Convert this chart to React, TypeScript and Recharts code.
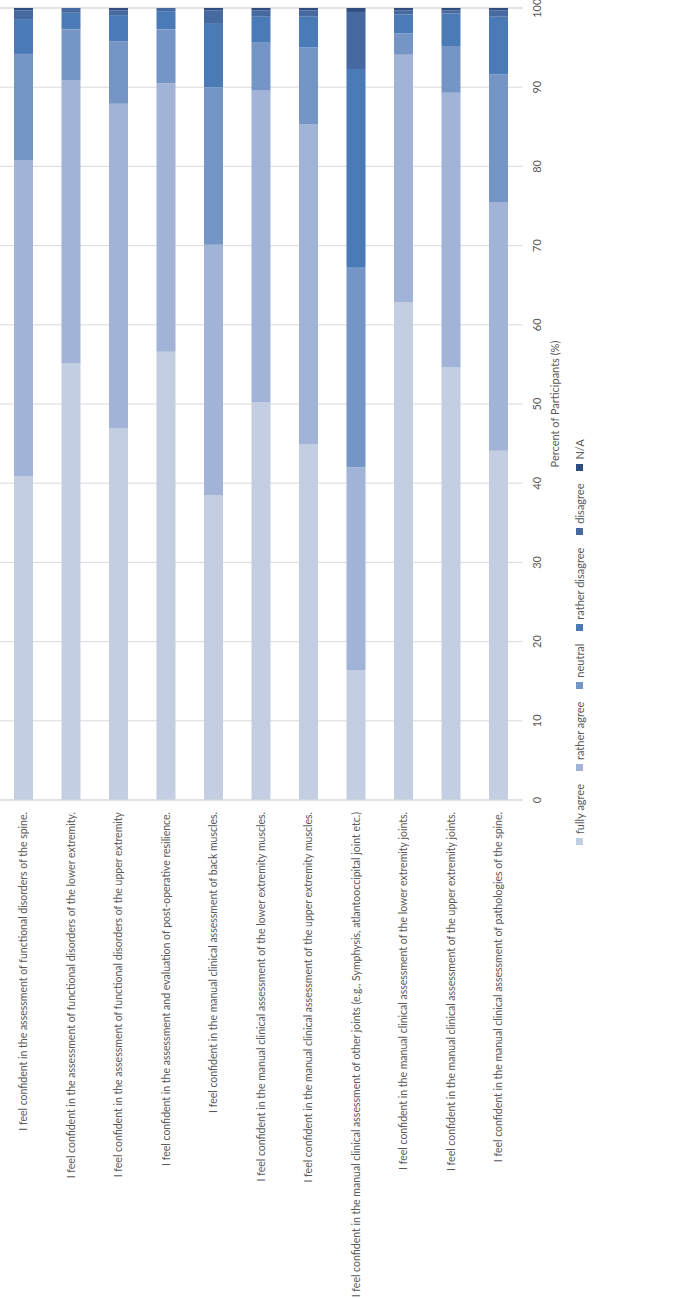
import React from 'react';
import { BarChart, Bar, XAxis, YAxis, CartesianGrid } from 'recharts';

const statements = [
  'I feel confident in the assessment of functional disorders of the spine.',
  'I feel confident in the assessment of functional disorders of the lower extremity.',
  'I feel confident in the assessment of functional disorders of the upper extremity',
  'I feel confident in the assessment and evaluation of post-operative resilience.',
  'I feel confident in the manual clinical assessment of back muscles.',
  'I feel confident in the manual clinical assessment of the lower extremity muscles.',
  'I feel confident in the manual clinical assessment of the upper extremity muscles.',
  'I feel confident in the manual clinical assessment of other joints (e.g., Symphysis, atlantooccipital joint etc.)',
  'I feel confident in the manual clinical assessment of the lower extremity joints.',
  'I feel confident in the manual clinical assessment of the upper extremity joints.',
  'I feel confident in the manual clinical assessment of pathologies of the spine.',
];

const fullyAgree = [40.9, 55.1, 46.9, 56.6, 38.5, 50.2, 44.9, 16.4, 62.8, 54.6, 44.1];
const ratherAgree = [39.9, 35.8, 41.0, 33.9, 31.6, 39.4, 40.4, 25.6, 31.3, 34.7, 31.4];
const neutral = [13.4, 6.4, 7.9, 6.8, 19.9, 6.1, 9.7, 25.2, 2.7, 5.9, 16.1];
const ratherDisagree = [4.4, 2.1, 3.3, 2.3, 8.0, 3.2, 3.9, 25.1, 2.4, 4.1, 7.3];
const disagree = [1.1, 0.6, 0.6, 0.4, 1.7, 0.8, 0.8, 7.2, 0.5, 0.4, 0.8];
const notApplicable = [0.3, 0, 0.3, 0, 0.3, 0.3, 0.3, 0.5, 0.3, 0.3, 0.3];

const valueTicks = [0, 10, 20, 30, 40, 50, 60, 70, 80, 90, 100];

const series = [
  { key: 'fa', name: 'fully agree', color: '#C3CEE3', values: fullyAgree },
  { key: 'ra', name: 'rather agree', color: '#A1B4D7', values: ratherAgree },
  { key: 'neu', name: 'neutral', color: '#7495C6', values: neutral },
  { key: 'rd', name: 'rather disagree', color: '#4A7BB7', values: ratherDisagree },
  { key: 'dis', name: 'disagree', color: '#4569A0', values: disagree },
  { key: 'na', name: 'N/A', color: '#2E4D7E', values: notApplicable },
];

const data = statements.map((s, i) => {
  const row: any = { name: s };
  series.forEach((sr) => (row[sr.key] = sr.values[i]));
  return row;
});

const FONT = 'Lato, "Liberation Sans", sans-serif';
const TXT = '#595959';

const W = 1299;
const H = 673;

// single-line category label (recharts would wrap long ones)
const StatementTick = (props: any) => {
  const { x, y, payload } = props;
  return (
    <text x={x} y={y} dy="0.355em" textAnchor="end" fontSize={10.5} fill={TXT} fontFamily={FONT}>
      {payload.value}
    </text>
  );
};

export default function App() {
  return (
    <div style={{ position: 'absolute', top: 0, left: 0, width: 673, height: 1299, overflow: 'hidden', background: '#fff' }}>
      <div
        style={{
          position: 'absolute',
          left: 0,
          top: 0,
          width: W,
          height: H,
          transformOrigin: '0 0',
          transform: `translate(0px, ${W}px) rotate(-90deg)`,
          fontFamily: FONT,
        }}
      >
        <BarChart
          width={W}
          height={H}
          data={data}
          layout="vertical"
          margin={{ top: 0, right: 8, left: 0, bottom: 114.5 }}
          barSize={19}
        >
          <CartesianGrid horizontal={false} stroke="#d9d9d9" />
          <XAxis
            type="number"
            domain={[0, 100]}
            ticks={valueTicks}
            axisLine={false}
            tickLine={false}
            tickMargin={5}
            height={36}
            tick={{ fontSize: 11, fill: TXT, fontFamily: FONT }}
            label={{ value: 'Percent of Participants (%)', position: 'insideBottom', offset: 0, fontSize: 11, fill: TXT, fontFamily: FONT }}
          />
          <YAxis
            type="category"
            dataKey="name"
            width={499}
            axisLine={{ stroke: '#d9d9d9' }}
            tickLine={false}
            tickMargin={6}
            interval={0}
            tick={<StatementTick />}
          />
          {series.map((sr) => (
            <Bar key={sr.key} dataKey={sr.key} name={sr.name} stackId="a" fill={sr.color} isAnimationActive={false} />
          ))}
        </BarChart>
        <div
          style={{
            position: 'absolute',
            top: 573,
            left: 454,
            display: 'flex',
            alignItems: 'center',
            fontSize: 11,
            color: TXT,
            whiteSpace: 'nowrap',
          }}
        >
          {series.map((sr) => (
            <div key={sr.key} style={{ display: 'flex', alignItems: 'center', marginRight: 13 }}>
              <span style={{ display: 'inline-block', width: 7, height: 7, background: sr.color, marginRight: 4 }} />
              <span>{sr.name}</span>
            </div>
          ))}
        </div>
      </div>
    </div>
  );
}
